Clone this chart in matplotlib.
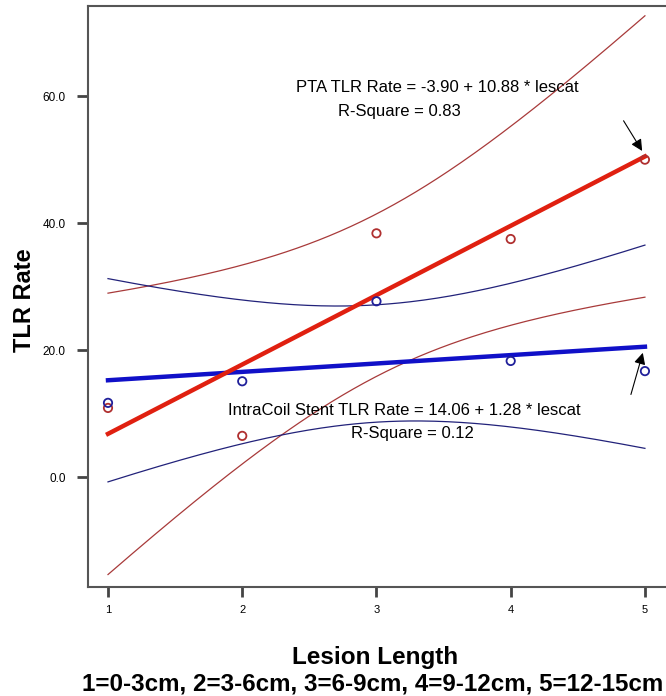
import numpy as np
import matplotlib
matplotlib.use("Agg")
import matplotlib.pyplot as plt

lesion_cat = [1, 2, 3, 4, 5]
pta_rate = [10.9, 6.5, 38.4, 37.5, 50.0]
stent_rate = [11.7, 15.1, 27.7, 18.3, 16.7]
x_ticks = [1, 2, 3, 4, 5]
y_ticks = [0, 20, 40, 60]
y_ticklabels = ["0.0", "20.0", "40.0", "60.0"]
pta_eq = "PTA TLR Rate = -3.90 + 10.88 * lescat"
pta_r2 = "R-Square = 0.83"
stent_eq = "IntraCoil Stent TLR Rate = 14.06 + 1.28 * lescat"
stent_r2 = "R-Square = 0.12"
T_975_DF3 = 3.182


def fit_ci(x, y, xs):
    x = np.asarray(x, float)
    y = np.asarray(y, float)
    b, a = np.polyfit(x, y, 1)
    n = len(x)
    resid = y - (a + b * x)
    s = np.sqrt(np.sum(resid ** 2) / (n - 2))
    sxx = np.sum((x - x.mean()) ** 2)
    fit = a + b * xs
    hw = T_975_DF3 * s * np.sqrt(1.0 / n + (xs - x.mean()) ** 2 / sxx)
    return fit, fit - hw, fit + hw


plt.rcParams['font.family'] = ['Liberation Sans', 'DejaVu Sans']
fig = plt.figure(figsize=(6.66, 6.96), dpi=100)
ax = fig.add_axes([88 / 666, 109 / 696, 1 - 88 / 666, 581 / 696])

xs = np.linspace(1, 5, 200)
pfit, plo, phi = fit_ci(lesion_cat, pta_rate, xs)
sfit, slo, shi = fit_ci(lesion_cat, stent_rate, xs)

red_band = "#a83a3a"
blue_band = "#22227a"
ax.plot(xs, phi, color=red_band, lw=0.9)
ax.plot(xs, plo, color=red_band, lw=0.9)
ax.plot(xs, shi, color=blue_band, lw=0.9)
ax.plot(xs, slo, color=blue_band, lw=0.9)
ax.plot(xs, sfit, color="#1010c8", lw=3.2)
ax.plot(xs, pfit, color="#e02010", lw=3.2)

ax.scatter(lesion_cat, pta_rate, s=36, facecolors="none", edgecolors="#b03030", linewidths=1.3, zorder=5)
ax.scatter(lesion_cat, stent_rate, s=36, facecolors="none", edgecolors="#20209a", linewidths=1.3, zorder=5)

ax.set_xlim(0.851, 5.157)
ax.set_ylim(-17.3, 74.2)
ax.set_xticks(x_ticks)
ax.set_xticklabels([str(v) for v in x_ticks], fontsize=8)
ax.set_yticks(y_ticks)
ax.set_yticklabels(y_ticklabels, fontsize=8.5)
ax.tick_params(axis='x', length=7, width=2, color="#444444", pad=6)
ax.tick_params(axis='y', length=8, width=2, color="#444444", pad=8)
for side in ["left", "bottom", "top"]:
    ax.spines[side].set_color("#555555")
    ax.spines[side].set_linewidth(1.5)
ax.spines["right"].set_visible(False)

ax.set_ylabel("TLR Rate", fontsize=17, fontweight="bold")
ax.yaxis.set_label_coords(-0.109, 0.494)
ax.yaxis.label.set_va("center")
ax.set_xlabel("Lesion Length", fontsize=17.5, fontweight="bold")
ax.xaxis.label.set_va("center")
ax.xaxis.set_label_coords(0.497, -0.122)
fig.text(373 / 666, 1 - 684 / 696, "1=0-3cm, 2=3-6cm, 3=6-9cm, 4=9-12cm, 5=12-15cm",
         ha="center", va="center", fontsize=17.4, fontweight="bold")

ax.text(3.457, 61.4, pta_eq, ha="center", va="center", fontsize=12)
ax.text(3.174, 57.6, pta_r2, ha="center", va="center", fontsize=12)
ax.text(3.21, 10.55, stent_eq, ha="center", va="center", fontsize=12)
ax.text(3.27, 6.93, stent_r2, ha="center", va="center", fontsize=12)

ax.annotate("", xy=(lesion_cat[4] - 0.01, pta_rate[4] + 1.0), xytext=(4.83, 56.5),
            arrowprops=dict(arrowstyle="-|>", color="black", lw=0.8, mutation_scale=17))
ax.annotate("", xy=(lesion_cat[4] - 0.01, 20.0), xytext=(4.89, 12.6),
            arrowprops=dict(arrowstyle="-|>", color="black", lw=0.8, mutation_scale=17))

fig.savefig("out.png", dpi=100)
